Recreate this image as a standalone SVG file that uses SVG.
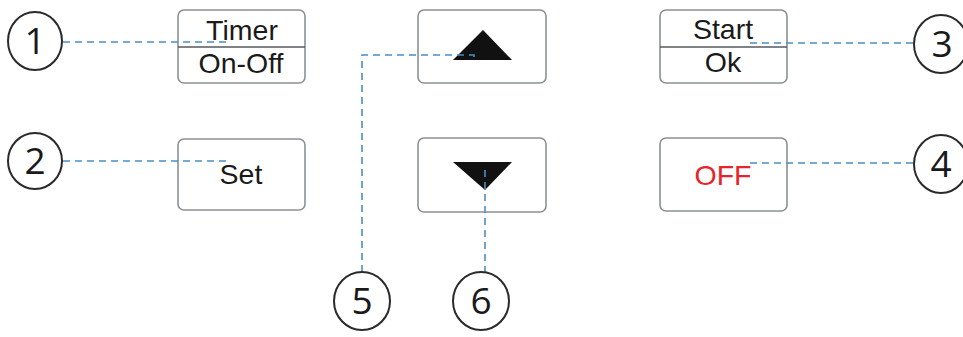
<svg xmlns="http://www.w3.org/2000/svg" width="963" height="337" viewBox="0 0 963 337">
<style>
.btn{fill:#fff;stroke:#8c9096;stroke-width:1.6}
.div{stroke:#55595e;stroke-width:1.4}
.lbl{font-family:"Liberation Sans",Arial,sans-serif;font-size:28.5px;fill:#1a1a1a;text-anchor:middle}
.num{fill:#fff;stroke:#2a2a2a;stroke-width:2}
.dig{font-family:"Open Sans","Liberation Sans",sans-serif;font-size:37px;fill:#1a1a1a;text-anchor:middle}
.dash{fill:none;stroke:#4a8fc4;stroke-width:1.6;stroke-dasharray:7 5}
.tri{fill:#111}
</style>
<rect width="963" height="337" fill="#fff"/>
<g id="btn-timer">
<rect class="btn" x="178" y="10" width="127" height="73" rx="6"/>
<line class="div" x1="178" y1="47" x2="305" y2="47"/>
<text class="lbl" x="242" y="40">Timer</text>
<text class="lbl" x="241" y="73">On-Off</text>
</g>
<g id="btn-set">
<rect class="btn" x="178" y="139" width="127" height="71" rx="6"/>
<text class="lbl" x="241" y="184">Set</text>
</g>
<g id="btn-up">
<rect class="btn" x="418" y="10" width="128" height="73" rx="6"/>
<polygon class="tri" points="483,30 512,60 453,60"/>
</g>
<g id="btn-down">
<rect class="btn" x="418" y="138" width="128" height="74" rx="6"/>
<polygon class="tri" points="453,162 512,162 485,190"/>
</g>
<g id="btn-start">
<rect class="btn" x="660" y="10" width="127" height="73" rx="6"/>
<line class="div" x1="660" y1="47" x2="787" y2="47"/>
<text class="lbl" x="723" y="39">Start</text>
<text class="lbl" x="723" y="72">Ok</text>
</g>
<g id="btn-off">
<rect class="btn" x="660" y="138" width="127" height="73" rx="6"/>
<text class="lbl" x="723" y="185" style="fill:#e8232a">OFF</text>
</g>
<g id="connectors">
<path class="dash" d="M63 42H226"/>
<path class="dash" d="M63 161H226"/>
<path class="dash" d="M750 43H914"/>
<path class="dash" d="M750 163H914"/>
<path class="dash" d="M362 272V55H474V59"/>
<path class="dash" d="M485 170V272"/>
</g>
<g id="n1"><ellipse class="num" cx="35" cy="41" rx="27" ry="29"/><text class="dig" x="35" y="54">1</text></g>
<g id="n2"><ellipse class="num" cx="35" cy="161" rx="27" ry="28"/><text class="dig" x="35" y="174">2</text></g>
<g id="n3"><ellipse class="num" cx="941" cy="44" rx="27" ry="29"/><text class="dig" x="942" y="57">3</text></g>
<g id="n4"><ellipse class="num" cx="941" cy="164" rx="27" ry="29"/><text class="dig" x="941" y="177">4</text></g>
<g id="n5"><ellipse class="num" cx="362" cy="301" rx="28" ry="29"/><text class="dig" x="362" y="314">5</text></g>
<g id="n6"><ellipse class="num" cx="481" cy="301" rx="28" ry="29"/><text class="dig" x="481" y="314">6</text></g>
</svg>
